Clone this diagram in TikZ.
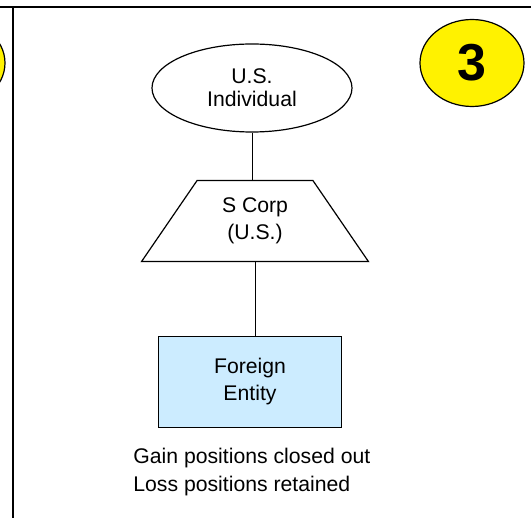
\documentclass[tikz,border=0pt]{standalone}
\usepackage{fontspec}
\setmainfont{Liberation Sans}
\usepackage{pgf,tikz}
\usetikzlibrary{shapes, arrows, positioning}
\definecolor{entityblue}{HTML}{CCECFF}
\tikzstyle{owner} = [draw, ellipse, line width=0.6pt, minimum width=100pt, minimum height=44pt, inner sep=0pt, align=center, font=\fontsize{10.6}{11.5}\selectfont]
\tikzstyle{scorp} = [draw, trapezium, trapezium stretches=true, trapezium left angle=55.6, trapezium right angle=55.6, line width=0.6pt, minimum width=114pt, minimum height=40.5pt, inner sep=0pt, align=center, font=\fontsize{10.6}{13.5}\selectfont]
\tikzstyle{foreign} = [draw, rectangle, fill=entityblue, line width=0.6pt, minimum width=91.5pt, minimum height=45.5pt, align=center, font=\fontsize{10.6}{13.5}\selectfont]
\tikzstyle{stepmark} = [draw, ellipse, fill=yellow, line width=0.6pt, minimum width=52pt, minimum height=43.5pt, inner sep=0pt, font=\fontsize{26}{26}\selectfont\bfseries]

\begin{document}
\begin{tikzpicture}[x=0.5pt, y=-0.5pt]
	\clip (0,0) rectangle (531,518);
	% frame of the panel
	\draw[line width=1pt] (0,7) -- (531,7);
	\draw[line width=1pt] (13,7) -- (13,518);
	\node[stepmark] (prevstep) at (-47,63) {};
	\node[stepmark] (step3) at (472,63) {3};
	\node[owner] (indiv) at (252,88) {U.S.\\Individual};
	\node[scorp] (scorp) at (255,221) {S Corp\\(U.S.)};
	\node[foreign] (entity) at (250,382) {Foreign\\Entity};
	\node[anchor=west, inner sep=0pt, align=left, font=\fontsize{10.6}{14}\selectfont] (note) at (133,472) {Gain positions closed out\\Loss positions retained};
	\draw[line width=0.5pt] (indiv.south) -- (indiv.south |- scorp.north);
	\draw[line width=0.5pt] (scorp.south) -- (scorp.south |- entity.north);
\end{tikzpicture}
\end{document}
